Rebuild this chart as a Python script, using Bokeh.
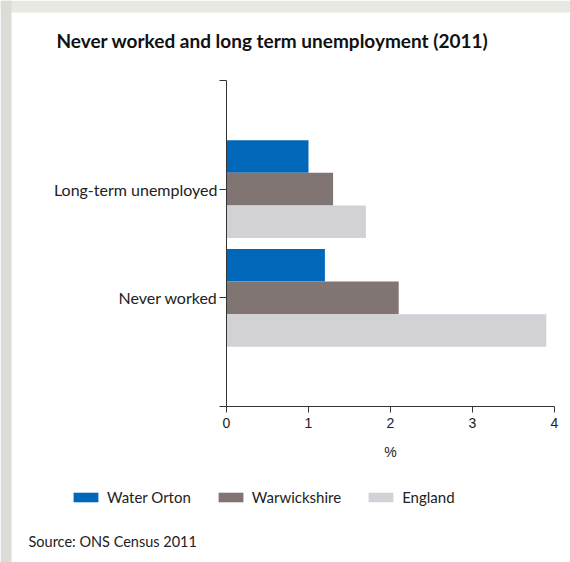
from bokeh.plotting import figure
from bokeh.models import (ColumnDataSource, Range1d, FixedTicker, Legend, LegendItem,
                          Label, BoxAnnotation)
from bokeh.transform import dodge
from bokeh.embed import file_html
from bokeh.resources import INLINE

# ---- data ----
categories = ["Never worked", "Long-term unemployed"]   # bottom to top
series = ["Water Orton", "Warwickshire", "England"]
water_orton = [1.2, 1.0]
warwickshire = [2.1, 1.3]
england = [3.9, 1.7]
x_ticks = [0, 1, 2, 3, 4]
title_text = "Never worked and long term unemployment (2011)"
source_text = "Source: ONS Census 2011"
x_label = "%"

colors = ["#0067b9", "#817574", "#d2d1d6"]

W, H = 570, 562
# plot area in canvas pixels
left_px, right_px, top_px, bottom_px = 226, 554, 80, 406
x_min, x_max = x_ticks[0], x_ticks[-1]
n_slots = len(categories) + 1
xs = (right_px - left_px) / (x_max - x_min)
ys = (bottom_px - top_px) / n_slots

ypos = [i + 1 for i in range(len(categories))]
src = ColumnDataSource(dict(y=ypos, cat=categories, wo=water_orton,
                            wa=warwickshire, en=england))

p = figure(width=W, height=H, output_backend="svg", toolbar_location=None,
           x_range=Range1d(x_min - left_px / xs, x_max + (W - right_px) / xs),
           y_range=Range1d(-(H - bottom_px) / ys, n_slots + top_px / ys),
           min_border=0, min_border_left=0, min_border_right=0,
           min_border_top=0, min_border_bottom=0, title=None)

# page frame bands (screenshot edge)
p.add_layout(BoxAnnotation(left=0, right=W, bottom=H - 12, top=H, left_units="screen",
                           right_units="screen", bottom_units="screen", top_units="screen",
                           fill_color="#e9e9e4", fill_alpha=1, line_color=None))
p.add_layout(BoxAnnotation(left=0, right=11, bottom=0, top=H, left_units="screen",
                           right_units="screen", bottom_units="screen", top_units="screen",
                           fill_color="#dcdcd7", fill_alpha=1, line_color=None))

offsets = [0.3, 0.0, -0.3]
fields = ["wo", "wa", "en"]
renderers = []
for f, off, c in zip(fields, offsets, colors):
    r = p.hbar(y=dodge("y", off), right=f, left=0, height=0.3, source=src,
               fill_color=c, line_color=None)
    renderers.append(r)

p.xgrid.visible = False
p.ygrid.visible = False
p.outline_line_color = None
p.background_fill_color = "white"
p.border_fill_color = "white"

# x axis
xa = p.xaxis[0]
xa.fixed_location = 0
xa.bounds = (x_min, x_max)
xa.ticker = FixedTicker(ticks=x_ticks)
xa.minor_tick_line_color = None
xa.major_tick_in = 0
xa.major_tick_out = 6
xa.axis_line_color = "#333333"
xa.major_tick_line_color = "#333333"
xa.major_label_text_font = "Liberation Sans"
xa.major_label_text_font_size = "14px"
xa.major_label_text_color = "#222222"
xa.major_label_standoff = 5
xa.axis_label = x_label
xa.axis_label_text_font = "Liberation Sans"
xa.axis_label_text_font_size = "14px"
xa.axis_label_text_font_style = "normal"
xa.axis_label_text_color = "#222222"
xa.axis_label_standoff = 13

# y axis
ya = p.yaxis[0]
ya.fixed_location = 0
ya.bounds = (0, n_slots)
ya.ticker = FixedTicker(ticks=[0] + ypos + [n_slots])
overrides = {0: "", n_slots: ""}
for yv, c in zip(ypos, categories):
    overrides[yv] = c
ya.major_label_overrides = overrides
ya.minor_tick_line_color = None
ya.major_tick_in = 0
ya.major_tick_out = 7
ya.axis_line_color = "#333333"
ya.major_tick_line_color = "#333333"
ya.major_label_text_font = "Lato"
ya.major_label_text_font_size = "16px"
ya.major_label_text_color = "#222222"
ya.major_label_standoff = 2

legend = Legend(items=[LegendItem(label=s, renderers=[r]) for s, r in zip(series, renderers)],
                orientation="horizontal", location=(70, 56),
                glyph_width=31, glyph_height=12, label_standoff=6, spacing=24,
                padding=0, margin=0, border_line_color=None,
                background_fill_alpha=0, label_text_font="Lato",
                label_text_font_size="15px", label_text_color="#222222",
                label_height=12)
p.add_layout(legend, "center")

p.add_layout(Label(x=56, y=H - 40, x_units="screen", y_units="screen", text=title_text,
                   text_align="left", text_baseline="alphabetic", text_font="Lato",
                   text_font_style="bold", text_font_size="19px", text_color="#111111"))
p.add_layout(Label(x=28, y=H - 541, x_units="screen", y_units="screen", text=source_text,
                   text_align="left", text_baseline="alphabetic", text_font="Lato",
                   text_font_size="14.5px", text_color="#222222"))

open("out.html", "w").write(file_html(p, INLINE))
